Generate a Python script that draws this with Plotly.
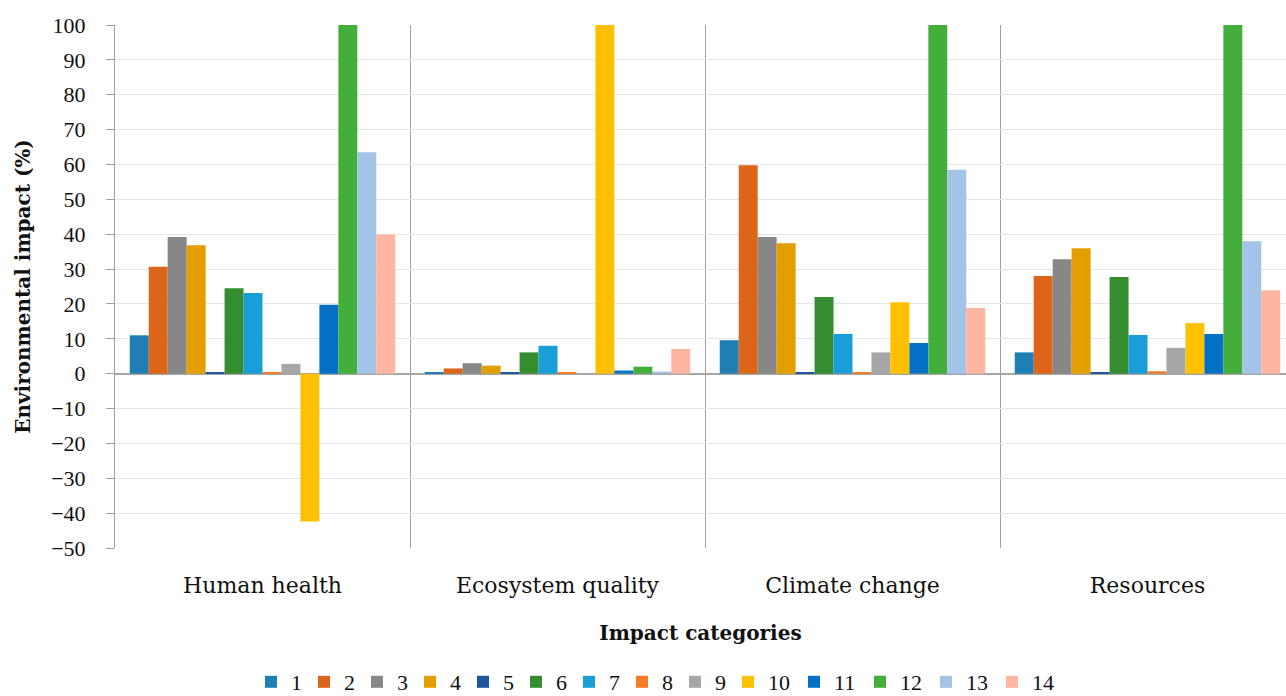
import plotly.graph_objects as go

categories = ["Human health", "Ecosystem quality", "Climate change", "Resources"]
series_names = ["1", "2", "3", "4", "5", "6", "7", "8", "9", "10", "11", "12", "13", "14"]

s1 = [11.0, 0.2, 9.6, 6.1]
s2 = [30.7, 1.5, 59.8, 28.0]
s3 = [39.2, 3.0, 39.2, 32.8]
s4 = [36.8, 2.3, 37.4, 36.0]
s5 = [0.3, 0.2, 0.2, 0.2]
s6 = [24.5, 6.1, 22.0, 27.7]
s7 = [23.1, 8.0, 11.4, 11.1]
s8 = [0.3, 0.2, 0.2, 0.7]
s9 = [2.8, 0.1, 6.1, 7.4]
s10 = [-42.4, 100.0, 20.5, 14.5]
s11 = [19.8, 0.9, 8.8, 11.4]
s12 = [100.0, 2.0, 100.0, 100.0]
s13 = [63.5, 0.6, 58.5, 38.0]
s14 = [39.9, 7.1, 18.8, 23.9]
series_values = [s1, s2, s3, s4, s5, s6, s7, s8, s9, s10, s11, s12, s13, s14]

colors = ["#1F7FB4", "#DC6519", "#878787", "#E39F00", "#1F56A0", "#348D2F", "#1A9ED8",
          "#F57B27", "#A6A6A6", "#FFC000", "#0571C6", "#44AE3C", "#A3C4E6", "#FFB6A1"]

y_ticks = list(range(-50, 101, 10))
y_ticklabels = [("\u2212" + str(-v)) if v < 0 else str(v) for v in y_ticks]

SERIF = "DejaVu Serif"
NUM = "Liberation Serif"

W, H = 1286, 696
L, T, B = 115, 25, 148
plot_w = W - L
plot_h = H - T - B
group_px = 295.0

fig = go.Figure()
for name, vals, col in zip(series_names, series_values, colors):
    fig.add_trace(go.Bar(x=categories, y=vals, name=name,
                         legendwidth=(8 if len(name) == 1 else 21),
                         marker=dict(color=col, line=dict(width=0))))

fig.update_layout(
    width=W, height=H,
    paper_bgcolor="white", plot_bgcolor="white",
    barmode="group", bargap=0.1, bargroupgap=0,
    margin=dict(l=L, r=0, t=T, b=B, autoexpand=False),
    font=dict(family=SERIF, size=19, color="#111111"),
    showlegend=True,
    legend=dict(orientation="h", x=(251 - L) / plot_w, xanchor="left",
                y=(plot_h - (682 - T)) / plot_h, yanchor="middle",
                font=dict(family=NUM, size=22), itemwidth=30, traceorder="normal"),
)
fig.update_xaxes(
    type="category", range=[-0.5, -0.5 + plot_w / group_px], automargin=False,
    tickson="boundaries", showgrid=True, gridcolor="#A0A0A0", gridwidth=1,
    ticks="", ticklabelstandoff=22,
    tickfont=dict(family=SERIF, size=22),
    showline=False,
    title=dict(text="<b>Impact categories</b>", standoff=28,
               font=dict(family=SERIF, size=20)),
)
fig.update_yaxes(
    range=[-50, 100], tickvals=y_ticks, ticktext=y_ticklabels, automargin=False,
    showgrid=True, gridcolor="#E6E6E6", gridwidth=1,
    zeroline=True, zerolinecolor="#A6A6A6", zerolinewidth=1.5,
    showline=True, linecolor="#A0A0A0", linewidth=1,
    ticks="outside", ticklen=8, tickcolor="#A0A0A0", ticklabelstandoff=16,
    tickfont=dict(family=NUM, size=22),
    title=dict(text="<b>Environmental impact (%)</b>", standoff=15,
               font=dict(family=SERIF, size=20)),
)

fig.write_html("out.html", config={"displayModeBar": False},
               post_script="document.body.style.margin='0';document.body.style.overflow='hidden';")
